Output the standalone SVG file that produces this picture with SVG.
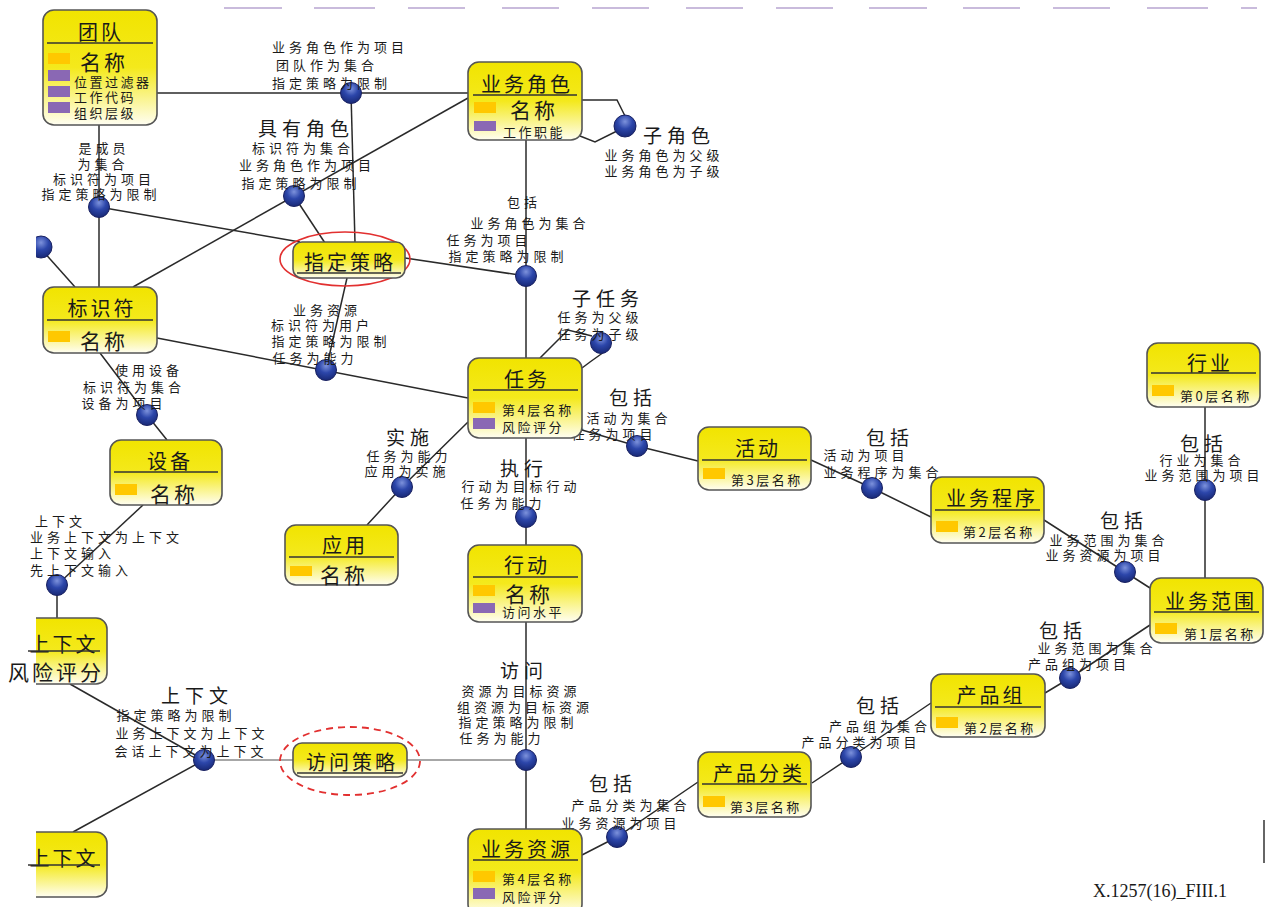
<svg xmlns="http://www.w3.org/2000/svg" width="1268" height="907" viewBox="0 0 1268 907">
<defs>
<linearGradient id="yg" x1="0" y1="0" x2="0" y2="1">
<stop offset="0" stop-color="#f1e400"/>
<stop offset="0.5" stop-color="#f4e91c"/>
<stop offset="1" stop-color="#fffef2"/>
</linearGradient>
<radialGradient id="bd" cx="0.5" cy="0.3" r="0.75">
<stop offset="0" stop-color="#7d92dc"/>
<stop offset="0.45" stop-color="#2c46aa"/>
<stop offset="1" stop-color="#15246e"/>
</radialGradient>
<clipPath id="lc"><rect x="36" y="0" width="1232" height="907"/></clipPath>
<style>
.box{fill:url(#yg);stroke:#555;stroke-width:1.6}
.ul{stroke:#333;stroke-width:1.4}
.or{fill:#ffc800}
.pu{fill:#8a68b4}
.dot{fill:url(#bd);stroke:#1a2262;stroke-width:1}
.c{fill:none;stroke:#2a2a2a;stroke-width:1.5}
.cg{fill:none;stroke:#8a8a8a;stroke-width:1.5}
text{font-family:"Noto Sans CJK SC","Noto Sans CJK JP",sans-serif;fill:#1a1a1a}
.t{font-size:20px;letter-spacing:3px;text-anchor:middle}
.nm{font-size:21px;letter-spacing:3px}
.r{font-size:13px;letter-spacing:2.5px}
.l{font-size:13px;letter-spacing:4px;text-anchor:middle}
.ll{font-size:13px;letter-spacing:4px}
.L{font-size:19px;letter-spacing:5px;text-anchor:middle}
</style>
</defs>
<rect width="1268" height="907" fill="#ffffff"/>

<g id="top-edge" stroke="#c9bbdc" stroke-width="2">
<line x1="224" y1="8" x2="282" y2="8"/><line x1="314" y1="8" x2="375" y2="8"/><line x1="408" y1="8" x2="465" y2="8"/><line x1="502" y1="8" x2="559" y2="8"/><line x1="592" y1="8" x2="649" y2="8"/><line x1="686" y1="8" x2="743" y2="8"/><line x1="776" y1="8" x2="833" y2="8"/><line x1="869" y1="8" x2="927" y2="8"/><line x1="963" y1="8" x2="1020" y2="8"/><line x1="1053" y1="8" x2="1110" y2="8"/><line x1="1147" y1="8" x2="1208" y2="8"/><line x1="1241" y1="8" x2="1257" y2="8"/>
</g>

<g id="connectors">
<line class="c" x1="157" y1="93" x2="468" y2="93"/>
<line class="c" x1="351" y1="93" x2="355" y2="243"/>
<line class="c" x1="133" y1="287" x2="468" y2="98"/>
<line class="c" x1="294" y1="196" x2="325" y2="243"/>
<line class="c" x1="99" y1="125" x2="99" y2="287"/>
<line class="c" x1="99" y1="207" x2="300" y2="242"/>
<line class="c" x1="526" y1="140" x2="526" y2="358"/>
<line class="c" x1="405" y1="258" x2="526" y2="276"/>
<line class="c" x1="157" y1="338" x2="468" y2="398"/>
<line class="c" x1="347" y1="278" x2="326" y2="370"/>
<polyline class="c" points="468,422 402,487 367,525"/>
<line class="c" x1="526" y1="438" x2="526" y2="545"/>
<polyline class="c" points="582,430 637,446 698,461"/>
<polyline class="c" points="811,460 872,488 931,517"/>
<line class="c" x1="1205" y1="407" x2="1205" y2="578"/>
<polyline class="c" points="1044,520 1125,572 1150,588"/>
<polyline class="c" points="1045,693 1070,678 1150,625"/>
<polyline class="c" points="812,783 851,757 931,703"/>
<polyline class="c" points="582,855 617,837 698,782"/>
<line class="c" x1="526" y1="622" x2="526" y2="829"/>
<line class="cg" x1="526" y1="760" x2="407" y2="760"/>
<line class="cg" x1="293" y1="760" x2="204" y2="760"/>
<line class="c" x1="70" y1="684" x2="204" y2="760"/>
<line class="c" x1="204" y1="760" x2="73" y2="832"/>
<line class="c" x1="57" y1="585" x2="57" y2="618"/>
<line class="c" x1="57" y1="585" x2="143" y2="505"/>
<polyline class="c" points="100,353 147,415 167,440"/>
<line class="c" x1="42" y1="250" x2="75" y2="287"/>
<polyline class="c" points="582,100 617,100 625,116"/>
<polyline class="c" points="617,131 595,142 580,136"/>
<polyline class="c" points="540,358 568,330 592,336"/>
<polyline class="c" points="604,352 590,362 582,368"/>
<line x1="1264" y1="820" x2="1264" y2="863" stroke="#333" stroke-width="1.5"/>
</g>

<g id="dots">
<circle class="dot" cx="351" cy="93" r="10.5"/>
<circle class="dot" cx="294" cy="196" r="10.5"/>
<circle class="dot" cx="99" cy="207" r="10.5"/>
<circle class="dot" cx="526" cy="276" r="10.5"/>
<circle class="dot" cx="326" cy="370" r="10.5"/>
<circle class="dot" cx="402" cy="487" r="10.5"/>
<circle class="dot" cx="526" cy="517" r="10.5"/>
<circle class="dot" cx="601" cy="343" r="10.5"/>
<circle class="dot" cx="637" cy="446" r="10.5"/>
<circle class="dot" cx="872" cy="488" r="10.5"/>
<circle class="dot" cx="1205" cy="490" r="10.5"/>
<circle class="dot" cx="1125" cy="572" r="10.5"/>
<circle class="dot" cx="1070" cy="678" r="10.5"/>
<circle class="dot" cx="851" cy="757" r="10.5"/>
<circle class="dot" cx="617" cy="837" r="10.5"/>
<circle class="dot" cx="526" cy="760" r="10.5"/>
<circle class="dot" cx="204" cy="760" r="10.5"/>
<circle class="dot" cx="57" cy="585" r="10.5"/>
<circle class="dot" cx="147" cy="415" r="10.5"/>
<circle class="dot" cx="625" cy="126" r="11"/>
<circle class="dot" cx="41" cy="247" r="11" clip-path="url(#lc)"/>
</g>

<g id="labels">
<text class="ll" x="272" y="52">业务角色作为项目</text>
<text class="ll" x="276" y="70">团队作为集合</text>
<text class="ll" x="272" y="88">指定策略为限制</text>

<text class="L" x="306" y="136">具有角色</text>
<text class="l" x="303" y="153">标识符为集合</text>
<text class="l" x="307" y="170">业务角色作为项目</text>
<text class="l" x="301" y="188">指定策略为限制</text>

<text class="l" x="104" y="153">是成员</text>
<text class="l" x="103" y="169">为集合</text>
<text class="l" x="104" y="184">标识符为项目</text>
<text class="l" x="101" y="199">指定策略为限制</text>

<text class="l" x="524" y="207">包括</text>
<text class="l" x="530" y="228">业务角色为集合</text>
<text class="l" x="489" y="245">任务为项目</text>
<text class="l" x="508" y="261">指定策略为限制</text>

<text class="L" x="679" y="143">子角色</text>
<text class="l" x="664" y="160">业务角色为父级</text>
<text class="l" x="664" y="176">业务角色为子级</text>

<text class="l" x="327" y="315">业务资源</text>
<text class="l" x="322" y="330">标识符为用户</text>
<text class="l" x="331" y="346">指定策略为限制</text>
<text class="l" x="315" y="363">任务为能力</text>

<text class="L" x="608" y="306">子任务</text>
<text class="l" x="600" y="322">任务为父级</text>
<text class="l" x="600" y="339">任务为子级</text>

<text class="l" x="149" y="375">使用设备</text>
<text class="l" x="134" y="392">标识符为集合</text>
<text class="l" x="124" y="408">设备为项目</text>

<text class="L" x="410" y="445">实施</text>
<text class="l" x="409" y="461">任务为能力</text>
<text class="l" x="407" y="476">应用为实施</text>

<text class="L" x="524" y="476">执行</text>
<text class="l" x="521" y="491">行动为目标行动</text>
<text class="l" x="503" y="508">任务为能力</text>

<text class="L" x="633" y="405">包括</text>
<text class="l" x="629" y="423">活动为集合</text>
<text class="l" x="614" y="439">任务为项目</text>

<text class="L" x="890" y="445">包括</text>
<text class="l" x="866" y="460">活动为项目</text>
<text class="l" x="883" y="477">业务程序为集合</text>

<text class="L" x="1204" y="451">包括</text>
<text class="l" x="1202" y="465">行业为集合</text>
<text class="l" x="1204" y="480">业务范围为项目</text>

<text class="L" x="1124" y="528">包括</text>
<text class="l" x="1109" y="545">业务范围为集合</text>
<text class="l" x="1105" y="560">业务资源为项目</text>

<text class="L" x="1063" y="638">包括</text>
<text class="l" x="1097" y="653">业务范围为集合</text>
<text class="l" x="1079" y="669">产品组为项目</text>

<text class="L" x="880" y="713">包括</text>
<text class="l" x="880" y="731">产品组为集合</text>
<text class="l" x="861" y="747">产品分类为项目</text>

<text class="L" x="613" y="791">包括</text>
<text class="l" x="631" y="810">产品分类为集合</text>
<text class="l" x="621" y="828">业务资源为项目</text>

<text class="L" x="524" y="678">访问</text>
<text class="l" x="521" y="696">资源为目标资源</text>
<text class="l" x="525" y="712">组资源为目标资源</text>
<text class="l" x="518" y="727">指定策略为限制</text>
<text class="l" x="502" y="743">任务为能力</text>

<text class="L" x="197" y="703">上下文</text>
<text class="l" x="176" y="720">指定策略为限制</text>
<text class="l" x="192" y="738">业务上下文为上下文</text>
<text class="l" x="191" y="756">会话上下文为上下文</text>

<text class="ll" x="35" y="526">上下文</text>
<text class="ll" x="30" y="542">业务上下文为上下文</text>
<text class="ll" x="30" y="558">上下文输入</text>
<text class="ll" x="30" y="575">先上下文输入</text>
</g>

<g id="n-team">
<rect class="box" x="43" y="10" width="114" height="115" rx="11"/>
<text class="t" x="101" y="40">团队</text>
<line class="ul" x1="47" y1="43" x2="153" y2="43"/>
<rect class="or" x="48" y="53" width="22" height="11"/>
<text class="nm" x="80" y="70">名称</text>
<rect class="pu" x="48" y="70" width="22" height="11"/>
<text class="r" x="74" y="87">位置过滤器</text>
<rect class="pu" x="48" y="86" width="22" height="11"/>
<text class="r" x="74" y="102">工作代码</text>
<rect class="pu" x="48" y="102" width="22" height="11"/>
<text class="r" x="74" y="118">组织层级</text>
</g>

<g id="n-role">
<rect class="box" x="468" y="62" width="114" height="78" rx="11"/>
<text class="t" x="527" y="92">业务角色</text>
<line class="ul" x1="473" y1="95" x2="577" y2="95"/>
<rect class="or" x="474" y="102" width="22" height="11"/>
<text class="nm" x="510" y="118">名称</text>
<rect class="pu" x="474" y="121" width="22" height="10"/>
<text class="r" x="503" y="137">工作职能</text>
</g>

<g id="n-policy">
<ellipse cx="345" cy="259" rx="65" ry="27" fill="none" stroke="#e23030" stroke-width="1.6"/>
<rect class="box" x="293" y="242" width="112" height="36" rx="9"/>
<text class="t" x="350" y="270">指定策略</text>
<line class="ul" x1="297" y1="273" x2="401" y2="273"/>
</g>

<g id="n-ident">
<rect class="box" x="43" y="287" width="114" height="66" rx="11"/>
<text class="t" x="102" y="316">标识符</text>
<line class="ul" x1="47" y1="320" x2="153" y2="320"/>
<rect class="or" x="48" y="331" width="22" height="11"/>
<text class="nm" x="80" y="349">名称</text>
</g>

<g id="n-device">
<rect class="box" x="110" y="440" width="112" height="65" rx="11"/>
<text class="t" x="170" y="469">设备</text>
<line class="ul" x1="114" y1="472" x2="218" y2="472"/>
<rect class="or" x="115" y="484" width="22" height="11"/>
<text class="nm" x="150" y="502">名称</text>
</g>

<g id="n-task">
<rect class="box" x="468" y="358" width="114" height="80" rx="11"/>
<text class="t" x="527" y="387">任务</text>
<line class="ul" x1="473" y1="390" x2="578" y2="390"/>
<rect class="or" x="473" y="402" width="22" height="11"/>
<text class="r" x="502" y="415">第4层名称</text>
<rect class="pu" x="473" y="418" width="22" height="11"/>
<text class="r" x="502" y="432">风险评分</text>
</g>

<g id="n-app">
<rect class="box" x="285" y="525" width="113" height="60" rx="11"/>
<text class="t" x="345" y="553">应用</text>
<line class="ul" x1="289" y1="557" x2="394" y2="557"/>
<rect class="or" x="290" y="566" width="22" height="10"/>
<text class="nm" x="320" y="583">名称</text>
</g>

<g id="n-action">
<rect class="box" x="468" y="545" width="114" height="77" rx="11"/>
<text class="t" x="527" y="573">行动</text>
<line class="ul" x1="473" y1="577" x2="578" y2="577"/>
<rect class="or" x="473" y="585" width="22" height="11"/>
<text class="nm" x="505" y="602">名称</text>
<rect class="pu" x="473" y="603" width="22" height="10"/>
<text class="r" x="502" y="617">访问水平</text>
</g>

<g id="n-activity">
<rect class="box" x="698" y="427" width="113" height="63" rx="11"/>
<text class="t" x="758" y="456">活动</text>
<line class="ul" x1="702" y1="460" x2="807" y2="460"/>
<rect class="or" x="703" y="468" width="22" height="11"/>
<text class="r" x="731" y="485">第3层名称</text>
</g>

<g id="n-process">
<rect class="box" x="931" y="477" width="113" height="66" rx="11"/>
<text class="t" x="992" y="506">业务程序</text>
<line class="ul" x1="935" y1="510" x2="1040" y2="510"/>
<rect class="or" x="936" y="521" width="22" height="11"/>
<text class="r" x="963" y="537">第2层名称</text>
</g>

<g id="n-industry">
<rect class="box" x="1147" y="343" width="113" height="64" rx="11"/>
<text class="t" x="1210" y="371">行业</text>
<line class="ul" x1="1151" y1="373" x2="1256" y2="373"/>
<rect class="or" x="1152" y="385" width="22" height="11"/>
<text class="r" x="1180" y="401">第0层名称</text>
</g>

<g id="n-scope">
<rect class="box" x="1150" y="578" width="113" height="65" rx="11"/>
<text class="t" x="1211" y="609">业务范围</text>
<line class="ul" x1="1154" y1="612" x2="1259" y2="612"/>
<rect class="or" x="1155" y="623" width="22" height="11"/>
<text class="r" x="1184" y="639">第1层名称</text>
</g>

<g id="n-pgroup">
<rect class="box" x="931" y="674" width="114" height="63" rx="11"/>
<text class="t" x="991" y="703">产品组</text>
<line class="ul" x1="935" y1="707" x2="1041" y2="707"/>
<rect class="or" x="936" y="717" width="22" height="11"/>
<text class="r" x="964" y="733">第2层名称</text>
</g>

<g id="n-pclass">
<rect class="box" x="698" y="752" width="113" height="65" rx="11"/>
<text class="t" x="759" y="781">产品分类</text>
<line class="ul" x1="702" y1="784" x2="807" y2="784"/>
<rect class="or" x="703" y="796" width="22" height="11"/>
<text class="r" x="730" y="812">第3层名称</text>
</g>

<g id="n-resource">
<rect class="box" x="468" y="829" width="114" height="86" rx="11"/>
<text class="t" x="527" y="857">业务资源</text>
<line class="ul" x1="473" y1="860" x2="578" y2="860"/>
<rect class="or" x="473" y="871" width="22" height="11"/>
<text class="r" x="502" y="884">第4层名称</text>
<rect class="pu" x="473" y="888" width="22" height="11"/>
<text class="r" x="502" y="902">风险评分</text>
</g>

<g id="n-access">
<ellipse cx="350" cy="761" rx="70" ry="34" fill="none" stroke="#e23030" stroke-width="1.8" stroke-dasharray="7 5"/>
<rect class="box" x="293" y="743" width="114" height="34" rx="9"/>
<text class="t" x="352" y="770">访问策略</text>
<line class="ul" x1="297" y1="773" x2="403" y2="773"/>
</g>

<g id="n-context1">
<rect class="box" x="-10" y="618" width="117" height="66" rx="11" clip-path="url(#lc)"/>
<text class="t" x="64" y="652">上下文</text>
<line class="ul" x1="28" y1="651" x2="100" y2="651"/>
<text class="nm" x="8" y="680">风险评分</text>
</g>

<g id="n-context2">
<rect class="box" x="-10" y="832" width="117" height="65" rx="11" clip-path="url(#lc)"/>
<text class="t" x="64" y="866">上下文</text>
<line class="ul" x1="28" y1="865" x2="100" y2="865"/>
</g>

<text x="1160" y="897" text-anchor="middle" style="font-family:'Liberation Serif',serif;font-size:18px">X.1257(16)_FIII.1</text>
</svg>
